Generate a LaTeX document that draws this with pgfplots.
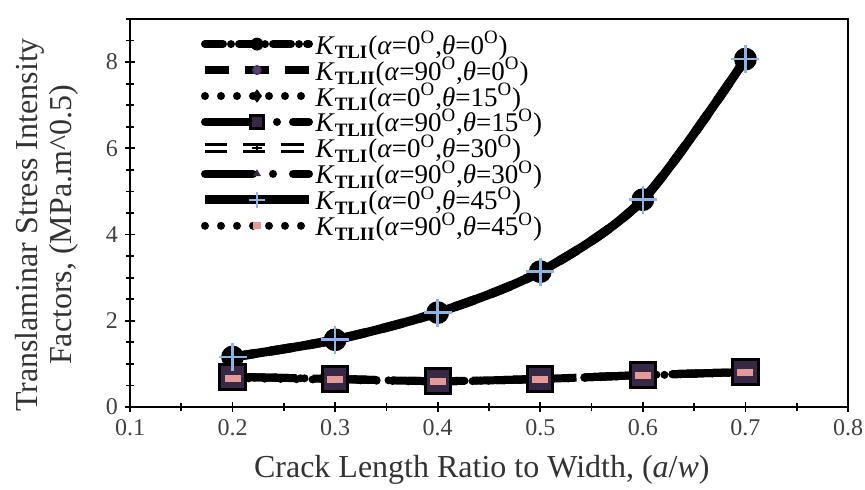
\documentclass[border=0pt]{standalone}
\usepackage{fontspec}
\setmainfont{Liberation Serif}
\usepackage{pgfplots}
\pgfplotsset{compat=1.18}
\usetikzlibrary{calc}

\definecolor{kblue}{RGB}{142,180,227}
\definecolor{kpink}{RGB}{227,154,150}
\definecolor{kpurple}{RGB}{88,64,120}
\definecolor{ksquare}{RGB}{55,40,70}

\newcommand{\kl}[3]{\textit{K}\textsubscript{\textbf{#1}}(\textit{α}=#2\textsuperscript{O},\textit{θ}=#3\textsuperscript{O})}

\begin{document}
\begin{tikzpicture}
\begin{axis}[
  name=ax,
  scale only axis,
  width=359pt, height=194pt,
  xmin=0.1, xmax=0.8, ymin=0, ymax=9,
  xtick={0.1,0.2,...,0.8},
  minor xtick={0.15,0.25,...,0.8},
  ytick={0,2,4,6,8},
  minor ytick={0.5,1,...,9},
  tick pos=left,
  tick align=center,
  major tick length=5pt, minor tick length=4pt,
  every tick/.style={black, line width=0.9pt},
  axis line style={line width=1.2pt},
  /pgf/number format/assume math mode=true,
  xticklabel style={/pgf/number format/.cd, fixed, precision=1, fixed zerofill},
  ticklabel style={font=\fontsize{12}{12}\selectfont, text=black!75},
  xlabel={Crack Length Ratio to Width, (\textit{a}/\textit{w})},
  ylabel={Translaminar Stress Intensity\\Factors, (MPa.m\textasciicircum0.5)},
  label style={font=\fontsize{16}{17}\selectfont, text=black!80},
  xlabel style={at={(axis description cs:0.49,-0.162)}, anchor=center},
  ylabel style={at={(axis description cs:-0.1156,0.469)}, anchor=center, align=center},
  legend image code/.code={\draw[mark repeat=2,mark phase=2,#1,every mark/.append style={scale=0.55}] plot coordinates {(0pt,0pt) (26pt,0pt) (52pt,0pt)};},
  legend style={draw=none, fill=none, at={(axis description cs:0.0975,0.975)}, anchor=north west,
    font=\fontsize{13.5}{13.5}\selectfont, row sep=-2pt, inner sep=0pt,
    nodes={inner sep=1pt}},
  legend cell align=left,
]
% K_TLI, alpha=0, theta=0
\addplot[black, line width=4pt, smooth, dash pattern=on 9pt off 4pt on 0pt off 4pt, line cap=round,
  mark=*, mark size=5.5pt, mark options={solid, fill=black, line width=0.4pt}]
  coordinates {(0.2,1.16) (0.3,1.56) (0.4,2.19) (0.5,3.14) (0.6,4.81) (0.7,8.07)};
\addlegendentry{\kl{TLI}{0}{0}}
% K_TLII, alpha=90, theta=0
\addplot[black, line width=4pt, smooth, dash pattern=on 12pt off 8pt,
  mark=*, mark size=4pt, mark options={solid, fill=kpurple, draw=kpurple!70!black, line width=0.6pt}]
  coordinates {(0.2,0.70) (0.3,0.65) (0.4,0.60) (0.5,0.65) (0.6,0.74) (0.7,0.81)};
\addlegendentry{\kl{TLII}{90}{0}}
% K_TLI, alpha=0, theta=15
\addplot[black, line width=4pt, smooth, dash pattern=on 0pt off 8pt, line cap=round,
  mark=diamond*, mark size=5.5pt, mark options={solid, fill=black, line width=0.4pt}]
  coordinates {(0.2,1.16) (0.3,1.56) (0.4,2.19) (0.5,3.14) (0.6,4.81) (0.7,8.07)};
\addlegendentry{\kl{TLI}{0}{15}}
% K_TLII, alpha=90, theta=15
\addplot[black, line width=4pt, smooth, dash pattern=on 28pt off 8pt on 0pt off 8pt, line cap=round,
  mark=square*, mark size=6.3pt, mark options={solid, fill=ksquare, draw=black, line width=1.5pt}]
  coordinates {(0.2,0.70) (0.3,0.65) (0.4,0.60) (0.5,0.65) (0.6,0.74) (0.7,0.81)};
\addlegendentry{\kl{TLII}{90}{15}}
% K_TLI, alpha=0, theta=30
\addplot[black, line width=1.2pt, double=white, double distance=2.2pt, smooth, dash pattern=on 11pt off 8pt,
  mark=+, mark size=4.5pt, mark options={solid, line width=1.2pt, draw=black}]
  coordinates {(0.2,1.16) (0.3,1.56) (0.4,2.19) (0.5,3.14) (0.6,4.81) (0.7,8.07)};
\addlegendentry{\kl{TLI}{0}{30}}
% K_TLII, alpha=90, theta=30
\addplot[black, line width=4pt, smooth, dash pattern=on 24pt off 10pt on 0pt off 10pt, line cap=round,
  mark=triangle*, mark size=3.5pt, mark options={solid, fill=ksquare, draw=ksquare, line width=0.4pt}]
  coordinates {(0.2,0.70) (0.3,0.65) (0.4,0.60) (0.5,0.65) (0.6,0.74) (0.7,0.81)};
\addlegendentry{\kl{TLII}{90}{30}}
% K_TLI, alpha=0, theta=45
\addplot[black, line width=4.5pt, smooth,
  mark=+, mark size=7pt, mark options={solid, draw=kblue, line width=1.3pt}]
  coordinates {(0.2,1.16) (0.3,1.56) (0.4,2.19) (0.5,3.14) (0.6,4.81) (0.7,8.07)};
\addlegendentry{\kl{TLI}{0}{45}}
% K_TLII, alpha=90, theta=45
\addplot[black, line width=4pt, smooth, dash pattern=on 0pt off 8pt, line cap=round,
  mark=-, mark size=4pt, mark options={solid, draw=kpink, line width=3.5pt, line cap=butt}]
  coordinates {(0.2,0.67) (0.3,0.63) (0.4,0.59) (0.5,0.64) (0.6,0.73) (0.7,0.80)};
\addlegendentry{\kl{TLII}{90}{45}}
\end{axis}
\pgfresetboundingbox
\path[use as bounding box] ($(ax.south west)+(-65pt,-41.5pt)$) rectangle ($(ax.north east)+(8.5pt,9.5pt)$);
\end{tikzpicture}
\end{document}
